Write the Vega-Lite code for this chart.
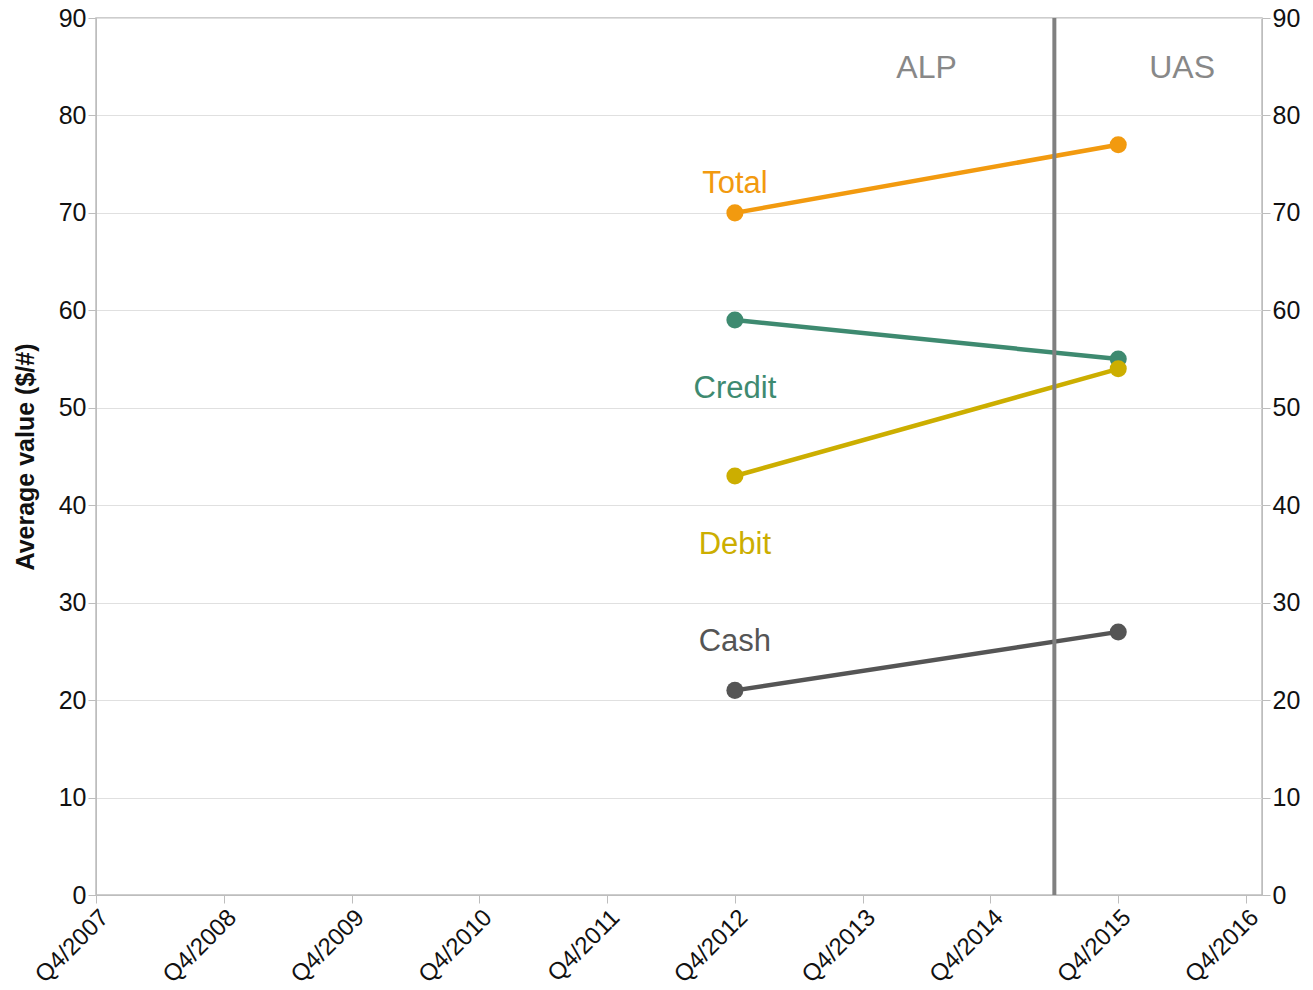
{
  "$schema": "https://vega.github.io/schema/vega-lite/v6.json",
  "width": 1166,
  "height": 877,
  "autosize": {"type": "none"},
  "padding": {"left": 96, "top": 18, "right": 51, "bottom": 95},
  "background": "white",
  "config": {
    "font": "Liberation Sans",
    "view": {"stroke": "#bdbdbd", "strokeWidth": 1.5},
    "axis": {
      "labelFont": "Liberation Sans",
      "titleFont": "Liberation Sans",
      "labelColor": "#111",
      "titleColor": "#111",
      "domainColor": "#bdbdbd",
      "tickColor": "#bdbdbd",
      "gridColor": "#e0e0e0"
    }
  },
  "datasets": {
    "series": [
      {"year": 2012, "value": 70, "series": "Total"},
      {"year": 2015, "value": 77, "series": "Total"},
      {"year": 2012, "value": 59, "series": "Credit"},
      {"year": 2015, "value": 55, "series": "Credit"},
      {"year": 2012, "value": 43, "series": "Debit"},
      {"year": 2015, "value": 54, "series": "Debit"},
      {"year": 2012, "value": 21, "series": "Cash"},
      {"year": 2015, "value": 27, "series": "Cash"}
    ],
    "labels": [
      {"year": 2012, "value": 73, "series": "Total"},
      {"year": 2012, "value": 51.9, "series": "Credit"},
      {"year": 2012, "value": 35.9, "series": "Debit"},
      {"year": 2012, "value": 26, "series": "Cash"}
    ],
    "surveys": [
      {"year": 2013.5, "value": 84.9, "name": "ALP"},
      {"year": 2015.5, "value": 84.9, "name": "UAS"}
    ],
    "divider": [{"year": 2014.5}]
  },
  "layer": [
    {
      "data": {"name": "series"},
      "mark": {"type": "line", "strokeWidth": 4.5},
      "encoding": {
        "x": {
          "field": "year",
          "type": "quantitative",
          "scale": {"domain": [2007, 2016.125], "nice": false, "zero": false},
          "axis": {
            "values": [2007, 2008, 2009, 2010, 2011, 2012, 2013, 2014, 2015, 2016],
            "labelExpr": "'Q4/' + datum.value",
            "labelAngle": -45,
            "labelFontSize": 24,
            "labelPadding": 2,
            "tickSize": 8,
            "grid": false,
            "title": null
          }
        },
        "y": {
          "field": "value",
          "type": "quantitative",
          "scale": {"domain": [0, 90], "nice": false},
          "axis": {
            "orient": "left",
            "values": [0, 10, 20, 30, 40, 50, 60, 70, 80, 90],
            "labelFontSize": 25,
            "labelPadding": 2,
            "tickSize": 8,
            "title": "Average value ($/#)",
            "titleFontSize": 25,
            "titleFontWeight": "bold",
            "titlePadding": 20,
            "grid": true
          }
        },
        "color": {
          "field": "series",
          "type": "nominal",
          "scale": {
            "domain": ["Total", "Credit", "Debit", "Cash"],
            "range": ["#F29A0F", "#3E8A70", "#CCAE00", "#555555"]
          },
          "legend": null
        },
        "detail": {"field": "series"}
      }
    },
    {
      "data": {"name": "series"},
      "mark": {"type": "point", "filled": true, "size": 290, "opacity": 1},
      "encoding": {
        "x": {"field": "year", "type": "quantitative"},
        "y": {
          "field": "value",
          "type": "quantitative",
          "axis": {
            "orient": "right",
            "values": [0, 10, 20, 30, 40, 50, 60, 70, 80, 90],
            "labelFontSize": 25,
            "labelPadding": 2,
            "tickSize": 8,
            "title": null,
            "grid": false
          }
        },
        "color": {"field": "series", "type": "nominal", "legend": null}
      }
    },
    {
      "data": {"name": "divider"},
      "mark": {"type": "rule", "color": "#808080", "strokeWidth": 4},
      "encoding": {"x": {"field": "year", "type": "quantitative"}}
    },
    {
      "data": {"name": "labels"},
      "mark": {"type": "text", "fontSize": 31, "align": "center", "baseline": "middle"},
      "encoding": {
        "x": {"field": "year", "type": "quantitative"},
        "y": {"field": "value", "type": "quantitative", "axis": null},
        "text": {"field": "series"},
        "color": {"field": "series", "type": "nominal", "legend": null}
      }
    },
    {
      "data": {"name": "surveys"},
      "mark": {"type": "text", "fontSize": 32, "align": "center", "baseline": "middle", "color": "#888888"},
      "encoding": {
        "x": {"field": "year", "type": "quantitative"},
        "y": {"field": "value", "type": "quantitative", "axis": null},
        "text": {"field": "name"}
      }
    }
  ],
  "resolve": {"axis": {"y": "independent"}}
}
